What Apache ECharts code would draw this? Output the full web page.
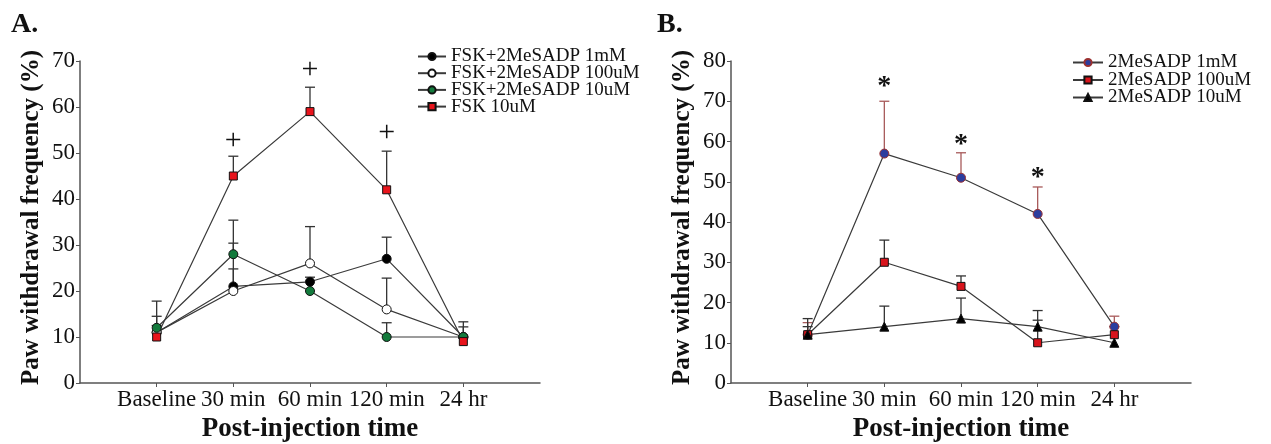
<!DOCTYPE html>
<html>
<head>
<meta charset="utf-8">
<script src="https://cdn.jsdelivr.net/npm/echarts@6/dist/echarts.min.js"></script>
<style>
html, body { margin: 0; padding: 0; background: #fff; }
#chart { width: 1271px; height: 444px; }
</style>
</head>
<body>
<div id="chart"></div>
<script>
// time points on the x axis
const times = ['Baseline', '30 min', '60 min', '120 min', '24 hr'];

// panel A
const fskMes1mM = [11, 21, 22, 27, 10];
const fskMes1mMErr = [3.5, 3.8, 1, 4.7, 3.3];
const fskMes100uM = [11, 20, 26, 16, 10];
const fskMes100uMErr = [6.8, 10.4, 8, 6.8, 2.2];
const fskMes10uM = [12, 28, 20, 10, 10];
const fskMes10uMErr = [0.5, 7.4, 0, 3.1, 0];
const fsk10uM = [10, 45, 59, 42, 9];
const fsk10uMErr = [0, 4.3, 5.3, 8.4, 0];
const plusMarks = [null, 52.6, 68.1, 54.4, null];

// panel B
const mes1mM = [12, 57, 51, 42, 14];
const mes1mMErr = [3, 13, 6.2, 6.7, 2.6];
const mes100uM = [12, 30, 24, 10, 12];
const mes100uMErr = [2, 5.5, 2.6, 5.6, 2];
const mes10uM = [12, 14, 16, 14, 10];
const mes10uMErr = [4, 5.1, 5.1, 4, 0];
const starMarks = [null, 73.5, 59.2, 51, null];

const serif = 'Liberation Serif';
const lineColor = '#3a3a3a';
const axisColor = '#555';

function lineSeries(name, idx, values, symbol, size, fill, border) {
    return {
        name: name,
        type: 'line',
        xAxisIndex: idx,
        yAxisIndex: idx,
        data: values.map((v, i) => [i, v]),
        symbol: symbol,
        symbolSize: size,
        z: 3,
        lineStyle: { color: lineColor, width: 1.2 },
        itemStyle: { color: fill, borderColor: border || '#111', borderWidth: 1 }
    }
}

function errSeries(idx, values, errs, color) {
    return {
        type: 'custom',
        xAxisIndex: idx,
        yAxisIndex: idx,
        z: 1,
        silent: true,
        encode: { x: 0, y: 1 },
        data: values.map((v, i) => [i, v, errs[i]]),
        renderItem: function(params, api) {
            let e = api.value(2)
            if (!e) return null
            let p0 = api.coord([api.value(0), api.value(1)])
            let p1 = api.coord([api.value(0), api.value(1) + e])
            let st = { stroke: color, lineWidth: 1.3 }
            return {
                type: 'group',
                children: [
                    { type: 'line', shape: { x1: p0[0], y1: p0[1], x2: p1[0], y2: p1[1] }, style: st },
                    { type: 'line', shape: { x1: p1[0] - 5, y1: p1[1], x2: p1[0] + 5, y2: p1[1] }, style: st }
                ]
            }
        }
    }
}

function markSeries(idx, marks, glyph, font) {
    return {
        type: 'custom',
        xAxisIndex: idx,
        yAxisIndex: idx,
        silent: true,
        encode: { x: 0, y: 1 },
        data: marks.map((v, i) => [i, v]).filter(d => d[1] !== null),
        renderItem: function(params, api) {
            let p = api.coord([api.value(0), api.value(1)])
            return {
                type: 'text',
                x: p[0], y: p[1],
                style: { text: glyph, font: font, fill: '#111', align: 'center', verticalAlign: 'middle' }
            }
        }
    }
}

function xAxis(idx) {
    return {
        type: 'value', gridIndex: idx, min: -1, max: 5, interval: 1,
        name: 'Post-injection time', nameLocation: 'middle', nameGap: 32,
        nameTextStyle: { fontFamily: serif, fontSize: 27, fontWeight: 'bold', color: '#111' },
        axisLine: { onZero: false, lineStyle: { color: axisColor, width: 1.5 } },
        axisTick: { customValues: [0, 1, 2, 3, 4], length: 4, lineStyle: { color: axisColor } },
        axisLabel: {
            customValues: [0, 1, 2, 3, 4], formatter: v => times[v], margin: 5,
            fontFamily: serif, fontSize: 23, color: '#111'
        },
        splitLine: { show: false }
    }
}

function yAxis(idx, max) {
    return {
        type: 'value', gridIndex: idx, min: 0, max: max, interval: 10,
        name: 'Paw withdrawal frequency (%)', nameLocation: 'middle', nameGap: 36,
        nameTextStyle: { fontFamily: serif, fontSize: 25, fontWeight: 'bold', color: '#111', padding: [0, 0, 0, 9] },
        axisLine: { show: true, onZero: false, lineStyle: { color: axisColor, width: 1.5 } },
        axisTick: { show: true, length: 4, lineStyle: { color: axisColor } },
        axisLabel: { margin: 5, fontFamily: serif, fontSize: 23, color: '#111' },
        splitLine: { show: false }
    }
}

let chart = echarts.init(document.getElementById('chart'))
chart.setOption({
    animation: false,
    title: [
        { text: 'A.', left: 6, top: 6, textStyle: { fontFamily: serif, fontSize: 28, fontWeight: 'bold', color: '#111' } },
        { text: 'B.', left: 652, top: 6, textStyle: { fontFamily: serif, fontSize: 28, fontWeight: 'bold', color: '#111' } }
    ],
    grid: [
        { left: 80, width: 460, top: 61, height: 322, outerBoundsMode: 'none', containLabel: false },
        { left: 731, width: 460, top: 61, height: 322, outerBoundsMode: 'none', containLabel: false }
    ],
    xAxis: [xAxis(0), xAxis(1)],
    yAxis: [yAxis(0, 70), yAxis(1, 80)],
    legend: [
        {
            orient: 'vertical', left: 412, top: 42, itemWidth: 28, itemHeight: 9, itemGap: -2.3,
            textStyle: { fontFamily: serif, fontSize: 19, lineHeight: 16, color: '#111' },
            data: ['FSK+2MeSADP 1mM', 'FSK+2MeSADP 100uM', 'FSK+2MeSADP 10uM', 'FSK 10uM']
        },
        {
            orient: 'vertical', left: 1067, top: 48, itemWidth: 30, itemHeight: 9, itemGap: -1.5,
            textStyle: { fontFamily: serif, fontSize: 19, lineHeight: 17, color: '#111' },
            data: ['2MeSADP 1mM', '2MeSADP 100uM', '2MeSADP 10uM']
        }
    ],
    series: [
        errSeries(0, fskMes1mM, fskMes1mMErr, '#333'),
        errSeries(0, fskMes100uM, fskMes100uMErr, '#333'),
        errSeries(0, fskMes10uM, fskMes10uMErr, '#333'),
        errSeries(0, fsk10uM, fsk10uMErr, '#333'),
        lineSeries('FSK+2MeSADP 1mM', 0, fskMes1mM, 'circle', 9, '#000'),
        lineSeries('FSK+2MeSADP 100uM', 0, fskMes100uM, 'circle', 9, '#fff'),
        lineSeries('FSK+2MeSADP 10uM', 0, fskMes10uM, 'circle', 9, '#137a3c'),
        lineSeries('FSK 10uM', 0, fsk10uM, 'rect', 8, '#e8141c'),
        markSeries(0, plusMarks, '+', '30px "Liberation Serif"'),

        errSeries(1, mes1mM, mes1mMErr, '#a85a5a'),
        errSeries(1, mes100uM, mes100uMErr, '#333'),
        errSeries(1, mes10uM, mes10uMErr, '#333'),
        lineSeries('2MeSADP 1mM', 1, mes1mM, 'circle', 9, '#2c3d9e', '#9a3030'),
        lineSeries('2MeSADP 100uM', 1, mes100uM, 'rect', 8, '#d8141c'),
        lineSeries('2MeSADP 10uM', 1, mes10uM, 'triangle', 9, '#000'),
        markSeries(1, starMarks, '*', 'bold 28px "Liberation Serif"')
    ]
})
</script>
</body>
</html>
